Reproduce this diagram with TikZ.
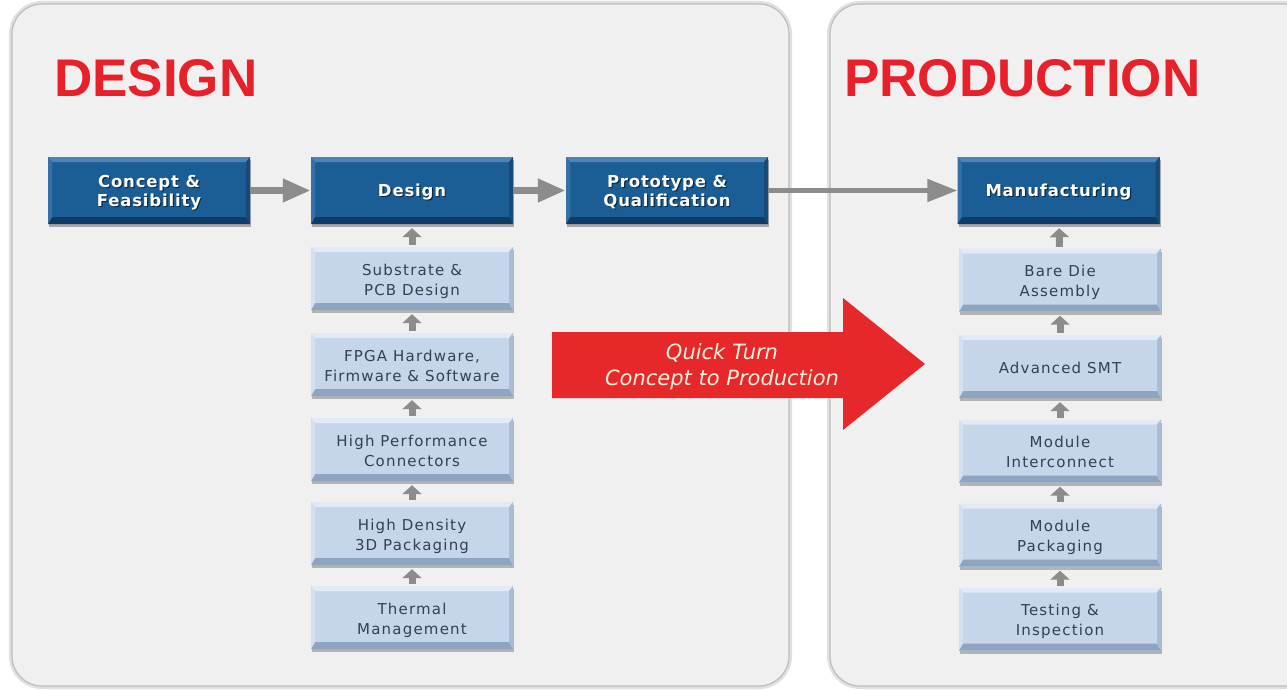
\documentclass[tikz,border=0pt]{standalone}
\usepackage{fontspec}
\usetikzlibrary{arrows.meta,shadows}

\newfontfamily\titlefont{Liberation Sans}
\newfontfamily\stagefont[LetterSpace=5]{DejaVu Sans}
\newfontfamily\stepfont[LetterSpace=8]{DejaVu Sans}
\newfontfamily\bannerfont{DejaVu Sans}

\definecolor{panelfill}{HTML}{F0F0F0}
\definecolor{paneledge}{HTML}{BDBDBD}
\definecolor{panelhalo}{HTML}{E0E0E0}
\definecolor{titlered}{HTML}{E8202A}
\definecolor{bannerred}{HTML}{E7282B}
\definecolor{bannertext}{HTML}{FDF1DE}
\definecolor{connector}{HTML}{8C8C8C}
% dark (stage) boxes
\definecolor{dkface}{HTML}{1B5E96}
\definecolor{dktop}{HTML}{4F83B5}
\definecolor{dkbot}{HTML}{0F3C66}
\definecolor{dkleft}{HTML}{3470A6}
\definecolor{dkright}{HTML}{154B7C}
\definecolor{dkshadow}{HTML}{0A2743}
% light (step) boxes
\definecolor{ltface}{HTML}{C6D6EA}
\definecolor{lttop}{HTML}{E2EAF5}
\definecolor{ltbot}{HTML}{8FA4C0}
\definecolor{ltleft}{HTML}{D4E0EF}
\definecolor{ltright}{HTML}{A9BCD6}
\definecolor{lttext}{HTML}{33414F}

% four bevel faces around the flat face of a box
\newcommand\bevelfaces[4]{%
 \fill[#1] (path picture bounding box.north west) -- (path picture bounding box.north east)
   -- ([xshift=-4pt,yshift=-5pt]path picture bounding box.north east)
   -- ([xshift=4pt,yshift=-5pt]path picture bounding box.north west) -- cycle;
 \fill[#2] (path picture bounding box.south west) -- (path picture bounding box.south east)
   -- ([xshift=-4pt,yshift=7pt]path picture bounding box.south east)
   -- ([xshift=4pt,yshift=7pt]path picture bounding box.south west) -- cycle;
 \fill[#3] (path picture bounding box.north west)
   -- ([xshift=4pt,yshift=-5pt]path picture bounding box.north west)
   -- ([xshift=4pt,yshift=7pt]path picture bounding box.south west)
   -- (path picture bounding box.south west) -- cycle;
 \fill[#4] (path picture bounding box.north east)
   -- ([xshift=-4pt,yshift=-5pt]path picture bounding box.north east)
   -- ([xshift=-4pt,yshift=7pt]path picture bounding box.south east)
   -- (path picture bounding box.south east) -- cycle;
}

% white label with a dark embossed shadow, centred a little below the box centre
\newcommand\embossed[1]{\leavevmode\raisebox{-6.6pt}[0pt][0pt]{%
 \rlap{\hspace{1.2pt}\raisebox{-1.2pt}{\color{dkshadow}\begin{tabular}{@{}c@{}}#1\end{tabular}}}%
 \begin{tabular}{@{}c@{}}#1\end{tabular}}}
% centred lines of a step label
\newcommand\steplines[1]{\raisebox{-6.2pt}[0pt][0pt]{\begin{tabular}{@{}c@{}}#1\end{tabular}}}

\begin{document}
\begin{tikzpicture}[x=1pt,y=-1pt,
  panel/.style={fill=panelfill, draw=paneledge, line width=1.2pt, rounded corners=30pt},
  halo/.style={draw=panelhalo, line width=6pt, rounded corners=30pt},
  title/.style={anchor=base west, inner sep=0pt, text=titlered,
    font=\titlefont\bfseries\fontsize{53}{60}\selectfont},
  stage/.style={minimum width=202pt, minimum height=67pt, inner sep=0pt,
    fill=dkface, text=white,
    font=\stagefont\bfseries\fontsize{16.5}{19}\selectfont,
    path picture={\bevelfaces{dktop}{dkbot}{dkleft}{dkright}},
    drop shadow={shadow xshift=1pt, shadow yshift=-3pt, opacity=0.3, fill=black}},
  stepbox/.style={minimum width=202pt, minimum height=63pt, inner sep=0pt,
    fill=ltface, text=lttext,
    font=\stepfont\fontsize{15}{20}\selectfont,
    path picture={\bevelfaces{lttop}{ltbot}{ltleft}{ltright}},
    drop shadow={shadow xshift=1pt, shadow yshift=-3pt, opacity=0.25, fill=black}},
  hconn/.style={draw=connector, line width=7pt,
    -{Triangle[length=28pt,width=22pt]}},
  longconn/.style={draw=connector, line width=5pt,
    -{Triangle[length=30pt,width=22pt]}},
  vconn/.style={draw=connector, line width=7pt,
    -{Triangle[length=9pt,width=19pt]}, shorten >=4pt, shorten <=1.5pt},
  banner/.style={fill=bannerred},
  bannerlabel/.style={text=bannertext, align=center, inner sep=0pt,
    font=\bannerfont\itshape\fontsize{21}{26}\selectfont}
]
\useasboundingbox (0,0) rectangle (1287,690);
\clip (0,0) rectangle (1287,690);
\fill[white] (0,0) rectangle (1287,690);

% two phase panels
\draw[halo] (12,4) rectangle (789,686);
\draw[panel] (12,4) rectangle (789,686);
\draw[halo] (830,4) rectangle (1315,686);
\draw[panel] (830,4) rectangle (1315,686);

\node[title] (designtitle) at (54,97) {DESIGN};
\node[title] (prodtitle) at (844,97) {PRODUCTION};

% main stages
\node[stage] (concept) at (149,190.5) {\embossed{Concept \&\\Feasibility}};
\node[stage] (design)  at (412,190.5) {\embossed{Design}};
\node[stage] (proto)   at (667,190.5) {\embossed{Prototype \&\\Qualification}};
\node[stage] (manuf)   at (1058.5,190.5) {\embossed{Manufacturing}};

% design steps
\node[stepbox] (substrate) at (412,278.5) {\steplines{Substrate \&\\PCB Design}};
\node[stepbox] (fpga)      at (412,364.5) {\steplines{FPGA Hardware,\\Firmware \& Software}};
\node[stepbox] (hiperf)    at (412,449.5) {\steplines{High Performance\\Connectors}};
\node[stepbox] (hidens)    at (412,533.5) {\steplines{High Density\\3D Packaging}};
\node[stepbox] (thermal)   at (412,617.5) {\steplines{Thermal\\Management}};

% production steps
\node[stepbox] (baredie)   at (1060,280)   {\steplines{Bare Die\\Assembly}};
\node[stepbox] (smt)       at (1060,366.5) {\steplines{Advanced SMT}};
\node[stepbox] (interconn) at (1060,451)   {\steplines{Module\\Interconnect}};
\node[stepbox] (packaging) at (1060,535)   {\steplines{Module\\Packaging}};
\node[stepbox] (testing)   at (1060,619)   {\steplines{Testing \&\\Inspection}};

% connectors
\draw[hconn] (concept) -- (design);
\draw[hconn] (design) -- (proto);
\draw[longconn] (proto) -- (manuf);

\draw[vconn] (substrate) -- (design);
\draw[vconn] (fpga) -- (substrate);
\draw[vconn] (hiperf) -- (fpga);
\draw[vconn] (hidens) -- (hiperf);
\draw[vconn] (thermal) -- (hidens);

\draw[vconn] (baredie) -- (manuf);
\draw[vconn] (smt) -- (baredie);
\draw[vconn] (interconn) -- (smt);
\draw[vconn] (packaging) -- (interconn);
\draw[vconn] (testing) -- (packaging);

% quick-turn banner arrow
\fill[banner] (552,332) -- (843,332) -- (843,298) -- (925,364)
  -- (843,430) -- (843,398) -- (552,398) -- cycle;
\node[bannerlabel] (quick) at (722,367) {Quick Turn\\Concept to Production};
\end{tikzpicture}
\end{document}
